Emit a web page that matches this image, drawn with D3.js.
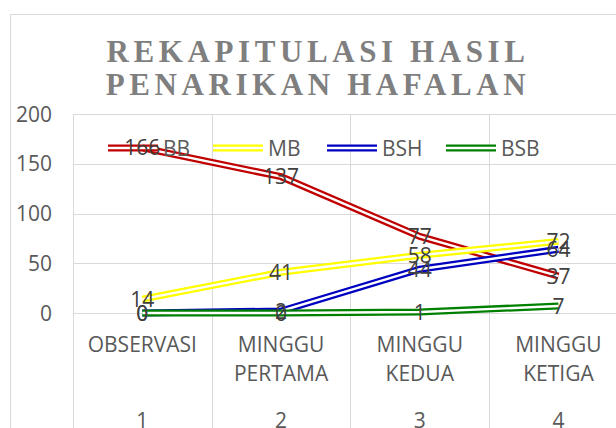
<!DOCTYPE html>
<html>
<head>
<meta charset="utf-8">
<script src="https://cdn.jsdelivr.net/npm/d3@7/dist/d3.min.js"></script>
<style>
  html, body { margin: 0; padding: 0; background: #fff; }
  svg { display: block; }
</style>
</head>
<body>
<svg id="chart" width="616" height="428"></svg>
<script>
// data
var categories = [["OBSERVASI"], ["MINGGU", "PERTAMA"], ["MINGGU", "KEDUA"], ["MINGGU", "KETIGA"]];
var outerLabels = ["1", "2", "3", "4"];
var seriesNames = ["BB", "MB", "BSH", "BSB"];
var seriesColors = ["#c00000", "#ffff00", "#0000c0", "#008000"];
var bbValues = [166, 137, 77, 37];
var mbValues = [14, 41, 58, 72];
var bshValues = [0, 2, 44, 64];
var bsbValues = [0, 0, 1, 7];
var yTicks = [0, 50, 100, 150, 200];
var titleLines = ["REKAPITULASI HASIL", "PENARIKAN HAFALAN"];

var series = [bbValues, mbValues, bshValues, bsbValues].map(function (vals, i) {
    return { name: seriesNames[i], color: seriesColors[i], values: vals };
});

var svg = d3.select("#chart");
var font = "'Open Sans', 'Liberation Sans', sans-serif";
var textColor = "#595959";
var gridColor = "#d9d9d9";

// chart frame (cut off on the right and bottom like the reference)
svg.append("rect")
    .attr("x", 10.5).attr("y", 14.5)
    .attr("width", 700).attr("height", 500)
    .attr("fill", "none").attr("stroke", gridColor);

var plotLeft = 73, plotTop = 114, plotBottom = 313;
var step = 138.7;

var x = d3.scaleBand()
    .domain(d3.range(categories.length))
    .range([plotLeft, plotLeft + step * categories.length]);

var y = d3.scaleLinear()
    .domain([0, 200])
    .range([plotBottom, plotTop]);

// horizontal grid
svg.append("g").selectAll("line")
    .data(yTicks)
    .enter().append("line")
    .attr("x1", plotLeft).attr("x2", 640)
    .attr("y1", d => Math.round(y(d)) + 0.5)
    .attr("y2", d => Math.round(y(d)) + 0.5)
    .attr("stroke", gridColor).attr("stroke-width", 1);

// vertical dividers, running down through the category labels
var dividers = d3.range(categories.length + 1).map(i => plotLeft + i * x.step());
svg.append("g").selectAll("line")
    .data(dividers)
    .enter().append("line")
    .attr("x1", d => Math.round(d) + 0.5).attr("x2", d => Math.round(d) + 0.5)
    .attr("y1", plotTop).attr("y2", 428)
    .attr("stroke", gridColor).attr("stroke-width", 1);

// y axis labels
var yAxis = d3.axisLeft(y).tickValues(yTicks).tickSize(0).tickPadding(0);
var yg = svg.append("g")
    .attr("transform", "translate(52,0)")
    .call(yAxis);
yg.select(".domain").remove();
yg.selectAll("text")
    .attr("font-family", font).attr("font-size", 21)
    .attr("fill", textColor).attr("dy", "0.34em");

// category labels
var cx = i => x(i) + x.bandwidth() / 2;
var catG = svg.append("g");
categories.forEach(function (lines, i) {
    lines.forEach(function (t, j) {
        catG.append("text")
            .attr("x", cx(i)).attr("y", 344 + j * 29)
            .attr("dy", "0.36em")
            .attr("text-anchor", "middle")
            .attr("font-family", font).attr("font-size", 21)
            .attr("fill", textColor)
            .text(t);
    });
    catG.append("text")
        .attr("x", cx(i)).attr("y", 420)
        .attr("dy", "0.36em")
        .attr("text-anchor", "middle")
        .attr("font-family", font).attr("font-size", 21)
        .attr("fill", textColor)
        .text(outerLabels[i]);
});

// title
svg.append("g").selectAll("text")
    .data(titleLines)
    .enter().append("text")
    .attr("x", 318)
    .attr("y", (d, i) => 62 + i * 33)
    .attr("text-anchor", "middle")
    .attr("font-family", "'Liberation Serif', 'DejaVu Serif', serif")
    .attr("font-weight", "bold")
    .attr("font-size", 31)
    .attr("letter-spacing", 4.6)
    .attr("fill", "#7f7f7f")
    .text(d => d);

// double lines: a wide coloured stroke with a thin white core
var line = d3.line()
    .x((d, i) => cx(i))
    .y(d => y(d));

function doubleLine(sel, color) {
    sel.append("path").attr("fill", "none")
        .attr("stroke", color).attr("stroke-width", 7);
    sel.append("path").attr("fill", "none")
        .attr("stroke", "#fff").attr("stroke-width", 2.4);
}

var lineG = svg.append("g");
series.forEach(function (s) {
    var g = lineG.append("g");
    doubleLine(g, s.color);
    g.selectAll("path").attr("d", line(s.values));
});

// legend
var legendStarts = [108, 213, 327, 446];
var legendY = 148;
var legG = svg.append("g");
series.forEach(function (s, i) {
    var g = legG.append("g");
    doubleLine(g, s.color);
    g.selectAll("path").attr("d", "M" + legendStarts[i] + "," + legendY + "H" + (legendStarts[i] + 50));
    g.append("text")
        .attr("x", legendStarts[i] + 55).attr("y", legendY)
        .attr("dy", "0.36em")
        .attr("font-family", font).attr("font-size", 21)
        .attr("fill", textColor)
        .text(s.name);
});

// data labels, centred on each point
var labG = svg.append("g");
series.forEach(function (s) {
    labG.selectAll(null)
        .data(s.values)
        .enter().append("text")
        .attr("x", (d, i) => cx(i))
        .attr("y", d => y(d))
        .attr("dy", "0.36em")
        .attr("text-anchor", "middle")
        .attr("font-family", font).attr("font-size", 21)
        .attr("fill", "#404040")
        .text(d => d);
});
</script>
</body>
</html>
